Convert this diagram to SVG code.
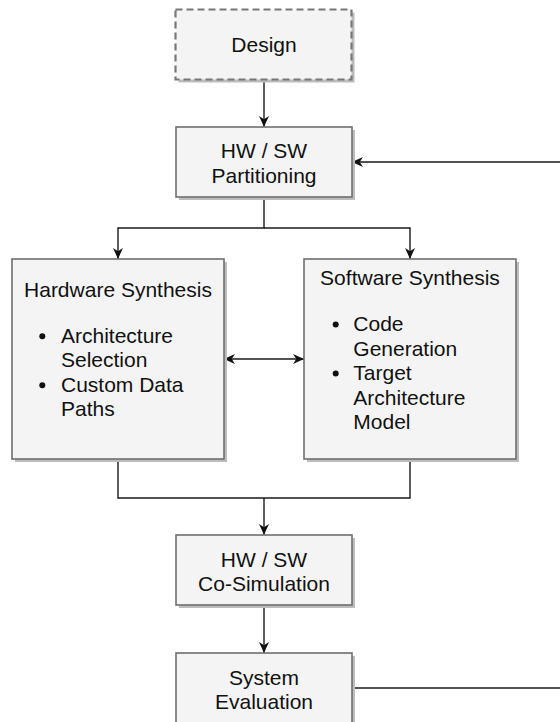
<svg xmlns="http://www.w3.org/2000/svg" width="560" height="722" viewBox="0 0 560 722">
  <defs>
    <marker id="arrow" markerUnits="userSpaceOnUse" markerWidth="11" markerHeight="11" viewBox="0 0 10 10" refX="10" refY="5" orient="auto-start-reverse">
      <path d="M0,0.5 L10,5 L0,9.5 L3,5 Z" fill="#111"/>
    </marker>
    <filter id="soft" x="-5%" y="-5%" width="115%" height="115%">
      <feGaussianBlur stdDeviation="0.6"/>
    </filter>
  </defs>
  <style>
    .box { fill: #f4f4f4; stroke: #6f6f6f; stroke-width: 1.6; }
    .dashed { stroke: #777777; stroke-dasharray: 7 4; stroke-width: 2.2; }
    .shadow { fill: #bdbdbd; filter: url(#soft); }
    .lbl { font-family: "Liberation Sans", Arial, sans-serif; font-size: 21px; fill: #111; }
    .mid { text-anchor: middle; }
    .dot { fill: #111; }
    .edge { fill: none; stroke: #1a1a1a; stroke-width: 1.4; }
  </style>
  <rect width="560" height="722" fill="#ffffff"/>

  <!-- connectors -->
  <g id="connectors">
    <path class="edge" d="M264,80 V127" marker-end="url(#arrow)"/>
    <path class="edge" d="M352,688 H580 V162 H352" marker-end="url(#arrow)"/>
    <path class="edge" d="M264,197 V228 H118 V259" marker-end="url(#arrow)"/>
    <path class="edge" d="M264,228 H410 V259" marker-end="url(#arrow)"/>
    <path class="edge" d="M224,359 H304" marker-start="url(#arrow)" marker-end="url(#arrow)"/>
    <path class="edge" d="M118,459 V498 H410 V459"/>
    <path class="edge" d="M264,498 V535" marker-end="url(#arrow)"/>
    <path class="edge" d="M264,605 V653" marker-end="url(#arrow)"/>
  </g>

  <g id="design">
    <rect class="shadow" x="178.5" y="12.5" width="176" height="70"/>
    <rect class="box dashed" x="175.5" y="9.5" width="176" height="70"/>
    <text class="lbl mid" x="264" y="52">Design</text>
  </g>

  <g id="partitioning">
    <rect class="shadow" x="179" y="130" width="176" height="70"/>
    <rect class="box" x="176" y="127" width="176" height="70"/>
    <text class="lbl mid" x="264" y="158">HW / SW</text>
    <text class="lbl mid" x="264" y="183">Partitioning</text>
  </g>

  <g id="hardware-synthesis">
    <rect class="shadow" x="15" y="262" width="212" height="200"/>
    <rect class="box" x="12" y="259" width="212" height="200"/>
    <text class="lbl mid" x="118" y="296.7">Hardware Synthesis</text>
    <circle class="dot" cx="42.3" cy="336.2" r="3"/>
    <text class="lbl" x="61" y="342.7">Architecture</text>
    <text class="lbl" x="61" y="367.2">Selection</text>
    <circle class="dot" cx="42.3" cy="385.2" r="3"/>
    <text class="lbl" x="61" y="391.7">Custom Data</text>
    <text class="lbl" x="61" y="416.2">Paths</text>
  </g>

  <g id="software-synthesis">
    <rect class="shadow" x="307" y="262" width="212" height="200"/>
    <rect class="box" x="304" y="259" width="212" height="200"/>
    <text class="lbl mid" x="410" y="285">Software Synthesis</text>
    <circle class="dot" cx="335.7" cy="324.5" r="3"/>
    <text class="lbl" x="353.3" y="331">Code</text>
    <text class="lbl" x="353.3" y="355.5">Generation</text>
    <circle class="dot" cx="335.7" cy="373.5" r="3"/>
    <text class="lbl" x="353.3" y="380">Target</text>
    <text class="lbl" x="353.3" y="404.5">Architecture</text>
    <text class="lbl" x="353.3" y="429">Model</text>
  </g>

  <g id="co-simulation">
    <rect class="shadow" x="179" y="538" width="176" height="70"/>
    <rect class="box" x="176" y="535" width="176" height="70"/>
    <text class="lbl mid" x="264" y="566.5">HW / SW</text>
    <text class="lbl mid" x="264" y="591">Co-Simulation</text>
  </g>

  <g id="system-evaluation">
    <rect class="shadow" x="179" y="656" width="176" height="70"/>
    <rect class="box" x="176" y="653" width="176" height="70"/>
    <text class="lbl mid" x="264" y="684.5">System</text>
    <text class="lbl mid" x="264" y="709">Evaluation</text>
  </g>
</svg>
